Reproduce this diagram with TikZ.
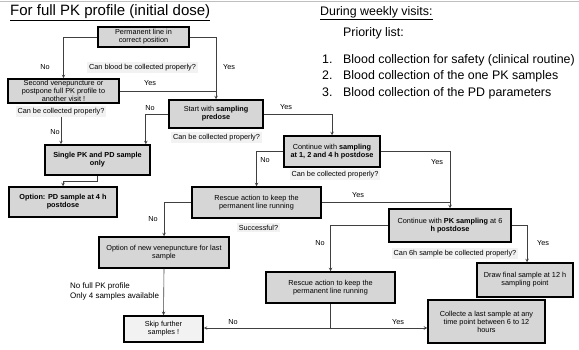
\documentclass[tikz,border=0pt]{standalone}
\usepackage{fontspec}
\setmainfont{Liberation Sans}
\usepackage{tikz}
\usetikzlibrary{arrows}
\definecolor{boxgray}{rgb}{0.84,0.84,0.84}
\definecolor{qgray}{rgb}{0.95,0.95,0.95}
\tikzstyle{box} = [rectangle, draw=black, line width=1.5pt, fill=boxgray, align=center, inner sep=1pt, font=\fontsize{7.3}{7.9}\selectfont]
\tikzstyle{endbox} = [box, fill=qgray]
\tikzstyle{cond} = [rectangle, fill=qgray, inner sep=2pt, font=\fontsize{7.3}{8}\selectfont]
\tikzstyle{lbl} = [inner sep=0pt, font=\fontsize{7.3}{8}\selectfont]
\tikzstyle{head} = [inner sep=0pt, anchor=west, font=\fontsize{15}{17}\selectfont]
\tikzstyle{lst} = [inner sep=0pt, anchor=west, font=\fontsize{12.4}{14}\selectfont]
\tikzstyle{line} = [line width=0.6pt, draw=black!75]
\tikzstyle{arrow} = [line, ->, >=stealth]

\begin{document}
\begin{tikzpicture}[x=1pt, y=-1pt]
	\useasboundingbox (0,0) rectangle (579,350);
	\draw[black!25] (0,1) -- (579,1);
	% headings
	\node (title) [head] at (10,13) {\underline{For full PK profile (initial dose)}};
	\node (weekly) [lst] at (320,13) {\underline{During weekly visits:}};
	\node (prio) [lst] at (343,33) {Priority list:};
	\foreach \t [count=\i] in {Blood collection for safety (clinical routine), Blood collection of the one PK samples, Blood collection of the PD parameters}
		\node (item\i) [lst] at (322,43.5+16.5*\i) {\makebox[21pt][l]{\i.}\t};
	
	% boxes
	\node (perm) [box, minimum width=91pt, minimum height=20pt] at (143.5,37) {Permanent line in\\correct position};
	\node (second) [box, minimum width=111pt, minimum height=24pt] at (63.5,91) {Second venepuncture or\\postpone full PK profile to\\another visit !};
	\node (single) [box, minimum width=105pt, minimum height=30pt] at (97.5,160) {\textbf{Single PK and PD sample}\\\textbf{only}};
	\node (option) [box, minimum width=108pt, minimum height=30pt] at (63,202) {\textbf{Option: PD sample at 4 h}\\\textbf{postdose}};
	\node (start) [box, minimum width=94pt, minimum height=28pt] at (216,114) {Start with \textbf{sampling}\\\textbf{predose}};
	\node (cont) [box, minimum width=96pt, minimum height=31pt] at (332,151.5) {Continue with \textbf{sampling}\\\textbf{at 1, 2 and 4 h postdose}};
	\node (rescueA) [box, minimum width=129pt, minimum height=31pt] at (256.5,202.5) {Rescue action to keep the\\permanent line running};
	\node (newvene) [box, minimum width=130pt, minimum height=31pt] at (164,252.5) {Option of new venepuncture for last\\sample};
	\node (skip) [endbox, minimum width=79pt, minimum height=26pt] at (163.5,329) {Skip further\\samples !};
	\node (cont6) [box, minimum width=122pt, minimum height=33pt] at (450,225.5) {Continue with \textbf{PK sampling} at 6\\\textbf{h postdose}};
	\node (rescueB) [box, minimum width=129pt, minimum height=31pt] at (330.5,287.5) {Rescue action to keep the\\permanent line running};
	\node (draw12) [box, minimum width=96pt, minimum height=34pt] at (525,280) {Draw final sample at 12 h\\sampling point};
	\node (collect) [box, minimum width=117pt, minimum height=43pt] at (486.5,321.5) {Collecte a last sample at any\\time point between 6 to 12\\hours};
	
	% questions
	\node (q1) [cond] at (142.5,67.5) {Can blood be collected properly?};
	\node (q2) [cond] at (61,111.5) {Can be collected properly?};
	\node (q3) [cond] at (216.5,137.5) {Can be collected properly?};
	\node (q4) [cond] at (335,174.5) {Can be collected properly?};
	\node (q5) [cond] at (258.5,227.5) {Successful?};
	\node (q6) [cond] at (455,253.5) {Can 6h sample be collected properly?};
	
	% branch labels
	\node (n1) [lbl] at (45,67) {No};
	\node (y1) [lbl] at (229,67) {Yes};
	\node (y2) [lbl] at (150,83) {Yes};
	\node (n2) [lbl] at (55,132) {No};
	\node (n3) [lbl] at (150,108) {No};
	\node (y3) [lbl] at (286,107) {Yes};
	\node (n4) [lbl] at (265,160) {No};
	\node (y4) [lbl] at (437,162) {Yes};
	\node (n5) [lbl] at (153,219) {No};
	\node (y5) [lbl] at (358,195) {Yes};
	\node (n6) [lbl] at (320,243) {No};
	\node (y6) [lbl] at (543,243) {Yes};
	\node (n7) [lbl] at (233,322) {No};
	\node (y7) [lbl] at (398,322) {Yes};
	\node (nofull) [lbl, anchor=west, align=left, font=\fontsize{8}{9.5}\selectfont] at (70,291.5) {No full PK profile\\Only 4 samples available};
	
	% connectors
	\draw [arrow] (perm.west) -| (second.north);
	\draw [arrow] (perm.east) -| (start.north);
	\draw [line] (second.east) -- (second.east -| start.north);
	\draw [arrow] (q2.south) -- (q2.south |- single.north);
	\draw [arrow] (start.west) -| ([xshift=-5pt]single.north east);
	\draw [arrow] (start.east) -| (cont.north);
	\draw [arrow] (single.south) -- ++(0,6) -| (option.north);
	\draw [arrow] (cont.west) -| (rescueA.north);
	\draw [arrow] (cont.east) -| (cont6.north);
	\draw [line] (rescueA.east) -- (rescueA.east -| cont6.north);
	\draw [arrow] (rescueA.west) -| (newvene.north);
	\draw [arrow] (newvene.south) -- (skip.north);
	\draw [arrow] (cont6.west) -| (rescueB.north);
	\draw [arrow] (cont6.east) -| ([xshift=2pt]draw12.north);
	\coordinate (split) at (330.5,328);
	\draw [line] (rescueB.south) -- (split);
	\draw [arrow] (split) -- (skip.east |- split);
	\draw [arrow] (split) -- (collect.west |- split);
\end{tikzpicture}
\end{document}
